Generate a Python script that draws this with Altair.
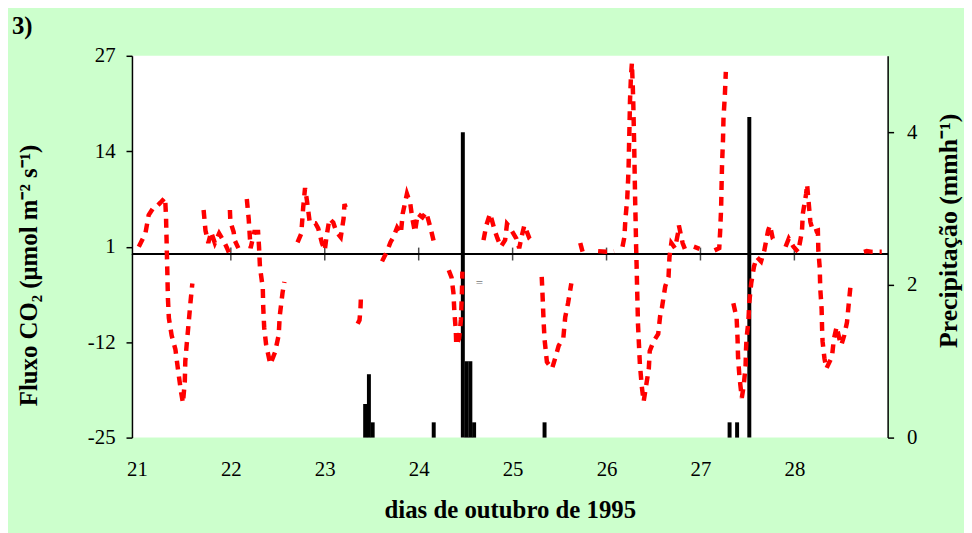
import altair as alt
import pandas as pd

FONT = "Liberation Serif"

# CO2 flux (umol m-2 s-1) against decimal day of October 1995; None marks a gap in the record
flux_day = [
    21.02, 21.09, 21.125, 21.18, 21.22, 21.25, 21.30, 21.31, 21.315, 21.32, 21.325, 21.33, 21.34, 21.37,
    21.41, 21.44, 21.47, 21.49, 21.51, 21.515, 21.53, 21.55, 21.57, 21.59, None,
    21.71, 21.73, 21.76, 21.79, 21.83, 21.875, 21.93, 21.96, 21.985, None,
    21.99, 21.995, 22.03, 22.04, 22.08, None,
    22.17, 22.19, 22.21, 22.25, 22.29, 22.30, 22.31, 22.34, 22.345, 22.355, 22.375, 22.42, 22.47, 22.51,
    22.52, 22.55, 22.57, None,
    22.71, 22.75, 22.77, 22.79, 22.81, 22.84, 22.90, 22.93, 22.97, 23.00, 23.02, 23.05, 23.09, 23.125,
    23.17, 23.20, 23.21, 23.25, None,
    23.35, 23.37, 23.38, 23.385, None,
    23.61, 23.66, 23.70, 23.73, 23.77, 23.81, 23.83, 23.875, 23.91, 23.93, 23.96, 23.99, 24.04, 24.08,
    24.125, 24.17, None,
    24.32, 24.35, 24.37, 24.38, 24.395, 24.40, 24.43, 24.45, 24.46, 24.465, None,
    24.69, 24.72, 24.76, 24.81, 24.84, 24.875, 24.92, 24.94, 24.98, 24.99, 25.04, 25.07, 25.10, 25.125,
    25.18, 25.22, None,
    25.31, 25.32, 25.33, 25.34, 25.365, 25.42, 25.46, 25.49, 25.54, 25.56, 25.59, 25.625, None,
    25.72, 25.745, None,
    25.91, 26.00, 26.08, None,
    26.17, 26.19, 26.20, 26.22, 26.23, 26.235, 26.24, 26.245, 26.25, 26.26, 26.27, 26.28, 26.285, 26.29,
    26.295, 26.30, 26.305, 26.31, 26.315, 26.32, 26.325, 26.33, 26.335, 26.345, 26.355, 26.375, 26.395,
    26.45, 26.46, 26.50, 26.55, 26.57, 26.59, 26.625, 26.66, 26.67, 26.69, 26.73, 26.76, 26.77, 26.81,
    26.84, None,
    26.93, 26.99, None,
    27.15, 27.20, 27.21, 27.22, 27.225, 27.23, 27.24, 27.245, 27.26, 27.27, None,
    27.35, 27.385, 27.395, 27.40, 27.415, 27.44, 27.46, 27.48, 27.485, 27.49, 27.51, 27.52, 27.54, 27.57,
    27.60, 27.645, 27.68, 27.72, 27.74, 27.77, 27.80, None,
    27.906, 27.94, 27.99, 28.04, 28.08, 28.09, 28.125, 28.135, 28.15, 28.17, 28.20, 28.25, 28.255, 28.27,
    28.275, 28.29, 28.295, 28.30, 28.32, 28.34, 28.40, 28.42, 28.45, 28.48, 28.50, 28.53, 28.56, 28.58,
    28.60, None,
    28.74, 28.77, 28.83, 28.90, 28.93,
]
flux_val = [
    1.0, 2.8, 5.3, 6.4, 6.6, 7.0, 7.7, 5.0, 2.3, -0.4, -3.1, -6.0, -8.7, -11.1,
    -13.0, -16.0, -18.8, -20.3, -17.3, -14.6, -12.3, -9.5, -6.6, -4.0, None,
    6.0, 3.2, 1.5, 3.0, 1.5, 2.8, 1.6, 0.8, 0.0, None,
    6.0, 4.4, 3.0, 1.9, 0.8, None,
    7.5, 4.8, 0.8, 3.0, 3.0, 1.0, -1.8, -4.6, -7.3, -10.0, -12.3, -15.0, -13.4, -11.0,
    -8.5, -5.3, -3.8, None,
    1.6, 2.8, 6.3, 9.0, 7.3, 4.3, 4.2, 3.5, 1.5, 0.5, 2.5, 4.8, 4.3, 3.0,
    2.3, 4.8, 6.8, 5.5, None,
    -9.5, -9.0, -7.5, -5.8, None,
    -1.0, 0.3, 1.6, 2.3, 3.6, 2.8, 5.5, 8.2, 6.9, 5.0, 3.0, 5.5, 5.0, 5.7,
    3.6, 1.2, None,
    -2.2, -3.2, -5.3, -7.9, -10.4, -12.4, -11.5, -8.9, -5.3, -2.4, None,
    1.9, 3.9, 5.5, 3.2, 2.1, 1.0, 1.9, 4.1, 3.5, 3.2, 2.1, 0.8, 2.6, 3.9,
    2.1, 1.6, None,
    -3.1, -6.0, -9.2, -11.6, -14.7, -15.6, -13.9, -12.5, -11.4, -8.6, -6.7, -4.0, None,
    1.5, 0.3, None,
    0.4, 0.3, 0.4, None,
    1.0, 2.3, 4.6, 7.5, 10.2, 12.0, 15.0, 17.8, 21.0, 24.2, 26.0, 22.6, 20.4, 17.4,
    14.4, 10.6, 7.0, 4.2, 1.0, -1.5, -4.4, -6.9, -9.6, -12.3, -15.0, -18.0, -20.1,
    -15.6, -13.2, -11.9, -10.9, -8.5, -7.3, -4.4, -3.1, -0.4, 1.5, 0.8, 2.8, 3.9, 1.5,
    0.5, None,
    1.0, 0.7, None,
    0.5, 0.8, 3.2, 6.3, 9.5, 12.3, 15.6, 18.4, 21.7, 24.8, None,
    -6.7, -8.7, -11.6, -14.0, -16.7, -19.6, -18.0, -15.3, -13.0, -11.6, -9.2, -6.6, -4.0, -1.7,
    -0.4, -1.0, 0.5, 3.2, 3.9, 2.1, 1.6, None,
    1.0, 2.1, 1.0, 0.3, 3.0, 5.5, 8.2, 9.5, 7.3, 4.4, 3.0, 3.2, 0.5, -1.9,
    -4.6, -7.5, -10.2, -11.9, -14.2, -15.6, -14.0, -11.6, -9.9, -11.6, -12.4, -11.1, -9.3, -6.6,
    -4.0, None,
    0.3, 0.4, 0.3, 0.3, 0.3,
]

# Hourly precipitation (mm h-1)
rain_day = [23.43, 23.47, 23.51, 24.16, 24.47, 24.51, 24.55, 24.59, 25.34, 27.31, 27.39, 27.52]
rain_val = [0.44, 0.83, 0.2, 0.2, 4.0, 1.0, 1.0, 0.2, 0.2, 0.2, 0.2, 4.2]

day_ticks = [21, 22, 23, 24, 25, 26, 27, 28]
zero_line_ticks = [22, 23, 24, 25, 26, 27, 28]
flux_ticks = [-25, -12, 1, 14, 27]
rain_ticks = [0, 2, 4]

# stray glyph visible in the original figure
note_day = [24.646]
note_val = [-3.9]
note_txt = ["="]

rows = []
seg = 0
for d, v in zip(flux_day, flux_val):
    if d is None or v is None:
        seg += 1
        continue
    rows.append({"day": d, "flux": v, "seg": seg})
flux_df = pd.DataFrame(rows)
rain_df = pd.DataFrame({"day": rain_day, "rain": rain_val})
tick_df = pd.DataFrame({"day": zero_line_ticks})
note_df = pd.DataFrame({"day": note_day, "flux": note_val, "txt": note_txt})

x_scale = alt.Scale(domain=[21, 28.94], nice=False, zero=False)
y_scale = alt.Scale(domain=[-25, 27], nice=False, zero=False)
r_scale = alt.Scale(domain=[0, 5], nice=False, zero=True)

PLAIN = "'' + datum.value"

x_axis = alt.Axis(
    values=day_ticks, labelExpr=PLAIN, title="dias de outubro de 1995",
    domain=False, ticks=False, grid=False,
    labelFont=FONT, labelFontSize=21, labelColor="black", labelPadding=21,
    titleFont=FONT, titleFontSize=25, titleFontWeight="bold", titleColor="black",
    titleY=73, titleBaseline="middle",
)

flux_axis = alt.Axis(
    orient="left", values=flux_ticks, labelExpr=PLAIN,
    title="Fluxo CO\u2082 (\u03bcmol m\u207b\u00b2 s\u207b\u00b9)",
    grid=False, domainColor="black", domainWidth=1.5, tickColor="black", tickWidth=1.5, tickSize=6,
    labelFont=FONT, labelFontSize=21, labelColor="black", labelPadding=11,
    titleFont=FONT, titleFontSize=25, titleFontWeight="bold", titleColor="black",
    titleAngle=270, titleX=-104, titleY=221, titleAlign="center", titleBaseline="middle",
)

rain_axis = alt.Axis(
    orient="right", values=rain_ticks, labelExpr=PLAIN,
    title="Precipita\u00e7\u00e3o (mmh\u207b\u00b9)",
    grid=False, domainColor="black", domainWidth=1.5, tickColor="black", tickWidth=1.5, tickSize=6,
    labelFont=FONT, labelFontSize=21, labelColor="black", labelPadding=13,
    titleFont=FONT, titleFontSize=26, titleFontWeight="bold", titleColor="black",
    titleAngle=270, titleX=61, titleY=176, titleAlign="center", titleBaseline="middle",
)

bars = alt.Chart(rain_df).mark_bar(size=4, color="black").encode(
    x=alt.X("day:Q", scale=x_scale, axis=x_axis),
    y=alt.Y("rain:Q", scale=r_scale, axis=rain_axis),
)

zero_rule = alt.Chart(tick_df).mark_rule(color="black", strokeWidth=1.8).encode(
    y=alt.YDatum(0, type="quantitative", scale=y_scale),
)

zero_ticks = alt.Chart(tick_df).mark_tick(
    color="black", thickness=1.5, size=13, orient="vertical"
).encode(
    x=alt.X("day:Q", scale=x_scale),
    y=alt.YDatum(0, type="quantitative", scale=y_scale),
)

flux_line = alt.Chart(flux_df).mark_line(
    color="#ff0000", strokeWidth=4.5, strokeDash=[9, 7], strokeCap="butt", strokeJoin="miter"
).encode(
    x=alt.X("day:Q", scale=x_scale),
    y=alt.Y("flux:Q", scale=y_scale, axis=flux_axis),
    detail="seg:N",
    order="day:Q",
)

note = alt.Chart(note_df).mark_text(color="#777777", fontSize=13, font=FONT).encode(
    x=alt.X("day:Q", scale=x_scale),
    y=alt.Y("flux:Q", scale=y_scale),
    text="txt:N",
)

flux_layer = alt.layer(zero_rule, zero_ticks, flux_line, note)

chart = alt.layer(bars, flux_layer).resolve_scale(y="independent").properties(
    width=762,
    height=385,
    autosize=alt.AutoSizeParams(type="none"),
    padding={"left": 125, "top": 46, "right": 77, "bottom": 94},
    background="#ccffcc",
    title=alt.TitleParams(
        "3)", anchor="start", frame="group", dx=-121, dy=21, offset=7,
        font=FONT, fontSize=25, fontWeight="bold", color="black", baseline="alphabetic",
    ),
).configure_view(fill="white", strokeWidth=0)

chart.save("out.html", embed_options={"renderer": "svg", "actions": False})
